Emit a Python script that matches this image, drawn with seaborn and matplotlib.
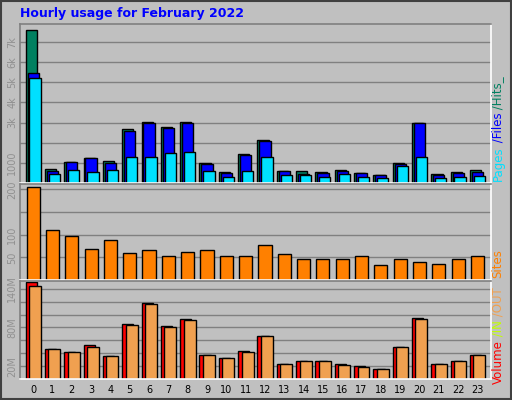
import numpy as np
import pandas as pd
import seaborn as sns
import matplotlib
matplotlib.use('Agg')
import matplotlib.pyplot as plt

hours = list(range(24))
hits = [7600, 700, 1050, 1250, 1100, 2700, 3050, 2800, 3050, 1000, 550, 1450,
        2150, 600, 600, 550, 650, 500, 400, 1000, 3000, 450, 550, 650]
files = [5450, 600, 1050, 1250, 1000, 2600, 3000, 2750, 3000, 950, 500, 1400,
         2100, 600, 450, 500, 600, 500, 400, 950, 3000, 400, 500, 550]
pages = [5200, 450, 650, 550, 650, 1300, 1300, 1500, 1550, 600, 300, 600,
         1300, 400, 400, 300, 450, 300, 250, 850, 1300, 250, 300, 350]
sites = [205, 110, 98, 68, 89, 59, 66, 52, 61, 66, 54, 52,
         78, 57, 47, 47, 47, 54, 33, 47, 40, 36, 47, 52]
volume = [150, 47, 42, 52, 35, 85, 118, 82, 93, 37, 33, 43,
          67, 23, 28, 28, 23, 20, 15, 50, 95, 23, 28, 38]
vol_in = [3, 0, 0, 0, 0, 0, 0, 0, 0, 0, 0, 0,
          0, 0, 0, 0, 0, 0, 0, 0, 0, 0, 0, 0]
vol_out = [145, 47, 42, 50, 35, 83, 117, 80, 92, 37, 33, 42,
           67, 23, 28, 28, 22, 18, 15, 50, 93, 23, 28, 38]

sns.set_theme(style='white')
plt.rcParams['font.family'] = ['DejaVu Sans']

fig = plt.figure(figsize=(5.12, 4.0), dpi=100)
fig.patch.set_facecolor('#c0c0c0')

W, H = 512, 400
def axes_px(x0, y0, x1, y1):
    return fig.add_axes([x0 / W, 1 - y1 / H, (x1 - x0) / W, (y1 - y0) / H])

ax1 = axes_px(20, 24, 491, 183)
ax2 = axes_px(20, 184, 491, 280)
ax3 = axes_px(20, 281, 491, 379)

hrs = np.array(hours)

def bars(ax, vals, off, color, w=0.58):
    df = pd.DataFrame({'x': hrs + off, 'y': vals})
    sns.barplot(data=df, x='x', y='y', native_scale=True, width=w, color=color,
                saturation=1, edgecolor='black', linewidth=1, ax=ax)

bars(ax1, hits, -0.1, '#008060')
bars(ax1, files, 0.0, '#0000ff')
bars(ax1, pages, 0.1, '#00e0ff')
bars(ax2, sites, 0.0, '#ff8000', w=0.68)
bars(ax3, volume, -0.1, '#ff0000')
bars(ax3, vol_in, -0.05, '#c0ff00', w=0.05)
bars(ax3, vol_out, 0.1, '#f0a050', w=0.62)

for ax, grid, ticks, labels, top in [
        (ax1, range(1000, 8000, 1000), [1000, 3000, 4000, 5000, 6000, 7000],
         ['1000', '3k', '4k', '5k', '6k', '7k'], 7900),
        (ax2, [50, 100, 150, 200], [50, 100, 200], ['50', '100', '200'], 212),
        (ax3, range(20, 160, 20), [20, 80, 140], ['20M', '80M', '140M'], 152)]:
    ax.set_facecolor('#c0c0c0')
    ax.set_xlim(-0.68, 23.7)
    ax.set_ylim(0, top)
    for g in grid:
        ax.axhline(g, color='#808080', lw=1, zorder=0)
    ax.set_yticks(ticks)
    ax.set_yticklabels(labels, rotation=90, va='center', color='#909090', fontsize=7)
    ax.tick_params(axis='y', length=0, pad=2)
    ax.set_xlabel('')
    ax.set_ylabel('')
    ax.set_xticks([])
    for s in ax.spines.values():
        s.set_color('white')
        s.set_linewidth(1.2)
    ax.spines['left'].set_color('#808080')
    ax.spines['top'].set_color('#808080')

ax3.set_xticks(hours)
ax3.set_xticklabels([str(h) for h in hours], fontsize=7, color='black')
ax3.tick_params(axis='x', length=0, pad=4)

fig.text(20 / W, 1 - 13 / H, 'Hourly usage for February 2022', color='#0000ff',
         fontsize=9, fontweight='bold', va='center')

def side_label(parts, y_bottom):
    y = y_bottom
    for text, color in parts:
        t = fig.text(498 / W, 1 - y / H, text, color=color, fontsize=8.5,
                     rotation=90, va='bottom', ha='center')
        fig.canvas.draw()
        bb = t.get_window_extent()
        y -= bb.height

side_label([('Pages', '#00e0ff'), (' /Files', '#0000ff'), (' /Hits_', '#008060')], 181)
side_label([('Sites', '#ff8000')], 278)
side_label([('Volume', '#ff0000'), (' /IN', '#c0ff00'), (' /OUT', '#f0a050')], 384)

fig.add_artist(plt.Rectangle((0.002, 0.002), 0.996, 0.996, transform=fig.transFigure,
                             fill=False, edgecolor='#404040', lw=1.5))
fig.savefig('out.png', dpi=100, facecolor=fig.get_facecolor())
